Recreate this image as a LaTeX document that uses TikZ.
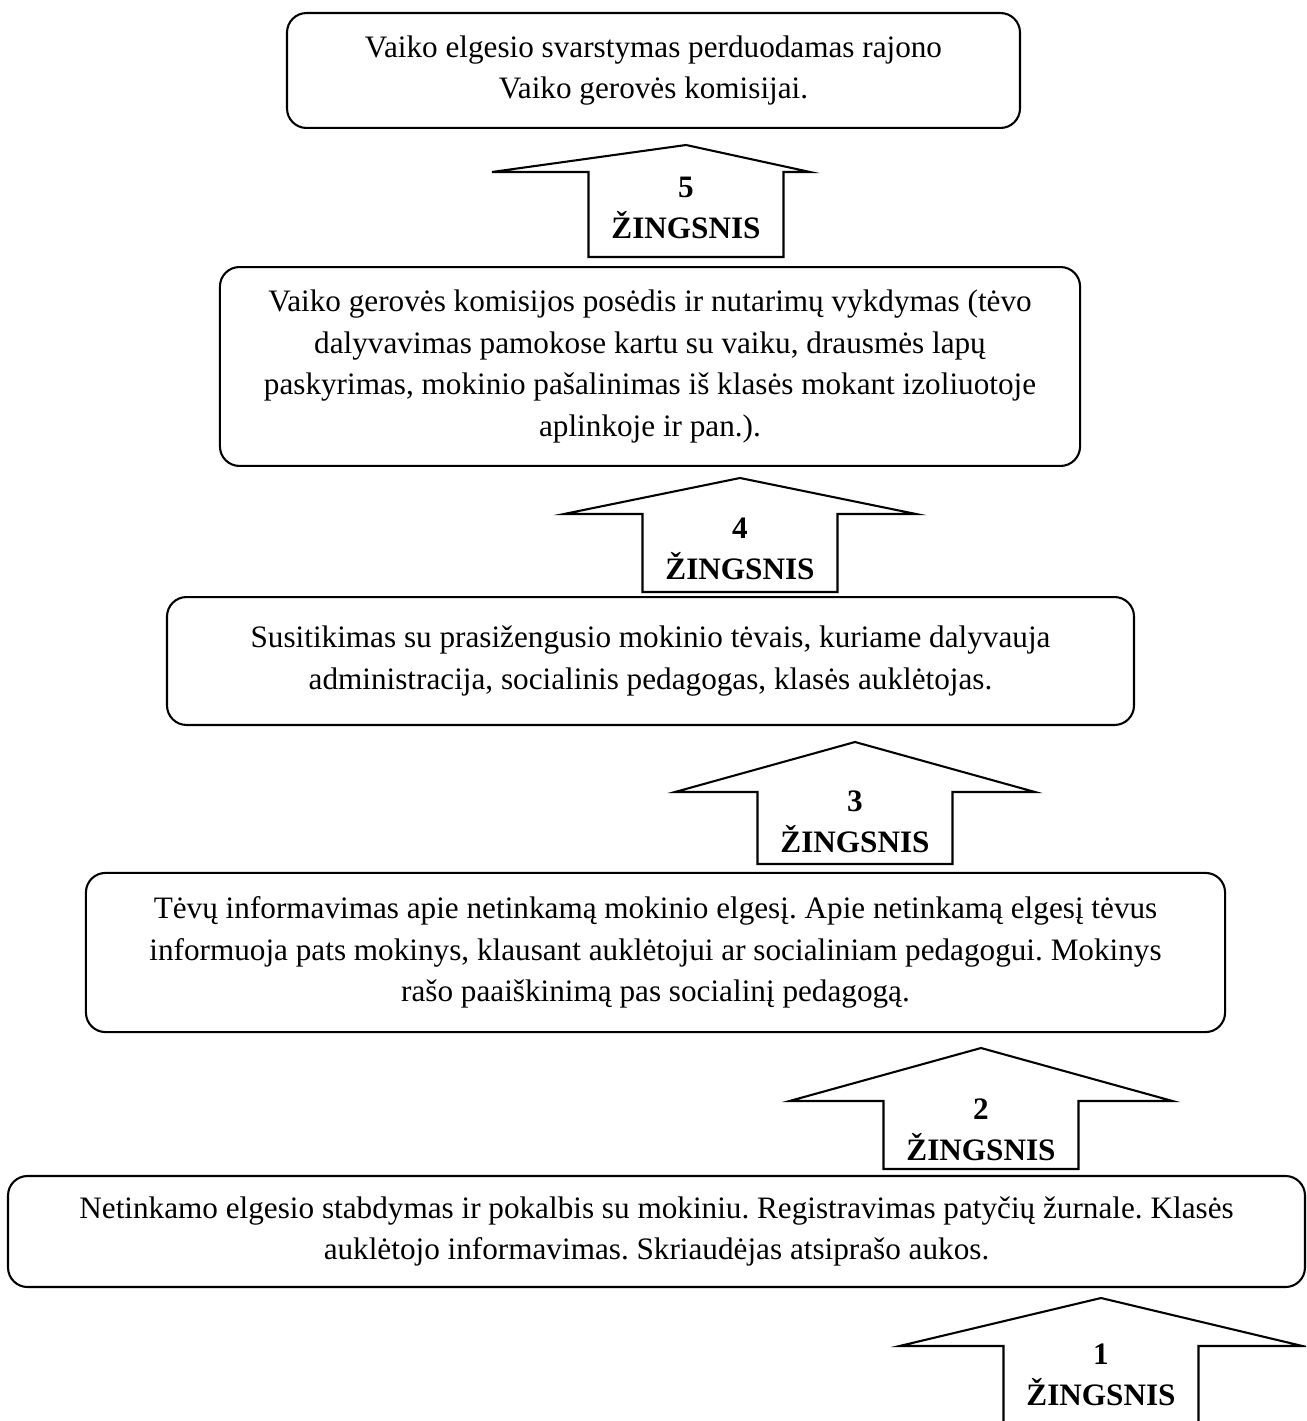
\documentclass[tikz,border=0pt]{standalone}
\usepackage{fontspec}
\setmainfont{Liberation Serif}
\usepackage{tikz}
\frenchspacing

\begin{document}
\begin{tikzpicture}[x=0.3846pt, y=-0.3846pt,
    stepbox/.style={draw, line width=0.8pt, rounded corners=7.5pt, align=center, inner sep=0pt,
                    font=\fontsize{12}{16}\selectfont},
    steparrow/.style={draw, line width=0.8pt, fill=white},
    steplabel/.style={align=center, inner sep=0pt, font=\fontsize{12}{16}\selectfont\bfseries}]
            \useasboundingbox (0,0) rectangle (1306,1421);
            \clip (0,0) rectangle (1306,1421);
            % boxes, top to bottom
            \node [stepbox, minimum width=281.9pt, minimum height=44.2pt] (box5) at (653.5,70.5)
                {Vaiko elgesio svarstymas perduodamas rajono\\ Vaiko gerovės komisijai.};
            \node [stepbox, minimum width=330.8pt, minimum height=76.5pt] (box4) at (650,366.5)
                {Vaiko gerovės komisijos posėdis ir nutarimų vykdymas (tėvo\\ dalyvavimas pamokose kartu su vaiku, drausmės lapų\\ paskyrimas, mokinio pašalinimas iš klasės mokant izoliuotoje\\ aplinkoje ir pan.).};
            \node [stepbox, minimum width=371.9pt, minimum height=49.2pt] (box3) at (650.5,661)
                {Susitikimas su prasižengusio mokinio tėvais, kuriame dalyvauja\\ administracija, socialinis pedagogas, klasės auklėtojas.};
            \node [stepbox, minimum width=438.1pt, minimum height=61.2pt] (box2) at (655.5,952.5)
                {Tėvų informavimas apie netinkamą mokinio elgesį. Apie netinkamą elgesį tėvus\\ informuoja pats mokinys, klausant auklėtojui ar socialiniam pedagogui. Mokinys\\ rašo paaiškinimą pas socialinį pedagogą.};
            \node [stepbox, minimum width=498.8pt, minimum height=42.7pt] (box1) at (656.5,1231.5)
                {Netinkamo elgesio stabdymas ir pokalbis su mokiniu. Registravimas patyčių žurnale. Klasės\\ auklėtojo informavimas. Skriaudėjas atsiprašo aukos.};
            % step arrows: number / centre x / tip y / wing y / left wing / right wing / shaft bottom / label y
            \foreach \n/\cx/\tip/\wing/\lw/\rw/\bot/\ty in {5/686/145/172/194/124/257/208,
                                                          4/740/478/514/176/176/592/549,
                                                          3/855/742/792/180/180/864/822,
                                                          2/981/1048/1101/191.5/191.5/1169/1130,
                                                          1/1101/1298/1346/201.5/201.5/1440/1375} {
                \draw [steparrow] (\cx,\tip) -- (\cx+\rw,\wing) -- (\cx+97.5,\wing) -- (\cx+97.5,\bot)
                    -- (\cx-97.5,\bot) -- (\cx-97.5,\wing) -- (\cx-\lw,\wing) -- cycle;
                \node [steplabel] (step\n) at (\cx,\ty) {\n\\ŽINGSNIS};
            }
        \end{tikzpicture}
\end{document}
